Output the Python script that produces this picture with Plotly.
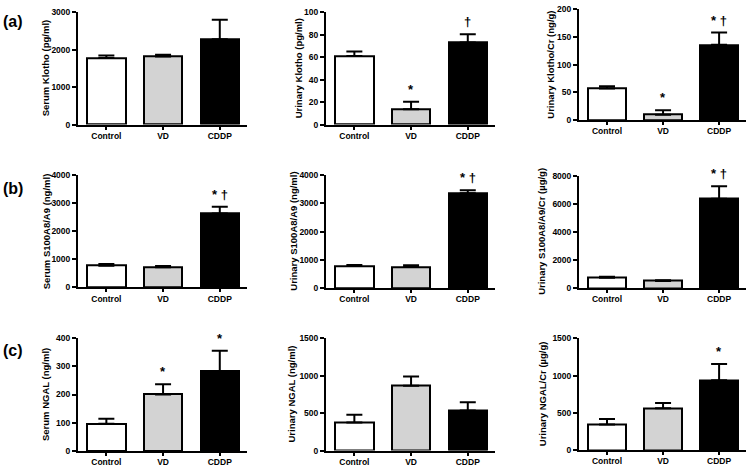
import plotly.graph_objects as go

# ---------------- data ----------------
groups = ["Control", "VD", "CDDP"]
bar_colors = ["#ffffff", "#d3d3d3", "#000000"]

serum_klotho = [1775, 1815, 2275]
serum_klotho_err = [68, 45, 525]
urinary_klotho = [61, 13.6, 73]
urinary_klotho_err = [4, 6.7, 7.3]
urinary_klotho_cr = [57, 10, 136]
urinary_klotho_cr_err = [4, 8, 22]

serum_s100 = [770, 713, 2640]
serum_s100_err = [60, 47, 237]
urinary_s100 = [786, 751, 3364]
urinary_s100_err = [34, 58, 104]
urinary_s100_cr = [744, 512, 6349]
urinary_s100_cr_err = [70, 46, 884]

serum_ngal = [96, 200, 282]
serum_ngal_err = [18.5, 36, 73]
urinary_ngal = [375, 868, 536]
urinary_ngal_err = [105, 122, 109]
urinary_ngal_cr = [342, 561, 939]
urinary_ngal_cr_err = [75, 71, 219]

panel_labels = ["(a)", "(b)", "(c)"]

panels = [
    # (values, errors, y title, y max, dtick, significance marks)
    (serum_klotho, serum_klotho_err, "Serum Klotho (pg/ml)", 3000, 1000, ["", "", ""]),
    (urinary_klotho, urinary_klotho_err, "Urinary Klotho (pg/ml)", 100, 20, ["", "*", "†"]),
    (urinary_klotho_cr, urinary_klotho_cr_err, "Urinary Klotho/Cr (ng/g)", 200, 50, ["", "*", "* †"]),
    (serum_s100, serum_s100_err, "Serum S100A8/A9 (ng/ml)", 4000, 1000, ["", "", "* †"]),
    (urinary_s100, urinary_s100_err, "Urinary S100A8/A9 (ng/ml)", 4000, 1000, ["", "", "* †"]),
    (urinary_s100_cr, urinary_s100_cr_err, "Urinary S100A8/A9/Cr (µg/g)", 8000, 2000, ["", "", "* †"]),
    (serum_ngal, serum_ngal_err, "Serum NGAL (ng/ml)", 400, 100, ["", "*", "*"]),
    (urinary_ngal, urinary_ngal_err, "Urinary NGAL (ng/ml)", 1500, 500, ["", "", ""]),
    (urinary_ngal_cr, urinary_ngal_cr_err, "Urinary NGAL/Cr (µg/g)", 1500, 500, ["", "", "*"]),
]

# ---------------- layout geometry (pixels) ----------------
W, H = 750, 469
col_px = [(78, 247), (326, 495), (579, 746)]
row_px = [
    [(7.3, 122.2), (7.3, 122.2), (4.3, 117.7)],
    [(174, 288.5), (174, 289.3), (174.3, 289.3)],
    [(340.3, 455.7), (340.7, 455.3), (340.7, 454.7)],
]
title_x_px = [[45, 298, 551], [46, 294, 542], [45.5, 292, 542]]
label_y_px = [17, 188, 353]

FONT = "Liberation Sans, Arial, sans-serif"

def px_x(p):
    return p / W

def px_y(p):
    return 1 - p / H

fig = go.Figure()
annotations = []
x_pos = list(range(len(groups)))

for i, (vals, errs, ytitle, ymax, dtick, marks) in enumerate(panels):
    r, c = divmod(i, 3)
    n = i + 1
    xa = "x" if n == 1 else f"x{n}"
    ya = "y" if n == 1 else f"y{n}"
    fig.add_trace(go.Bar(
        x=x_pos, y=vals, xaxis=xa, yaxis=ya,
        width=0.68,
        marker=dict(color=bar_colors, line=dict(color="black", width=2)),
        error_y=dict(type="data", array=errs, arrayminus=[0] * len(errs),
                     symmetric=False, color="black", thickness=2, width=8),
        showlegend=False, hoverinfo="skip",
    ))
    x0, x1 = col_px[c]
    yt, yb = row_px[r][c]
    axis_common = dict(showline=True, linecolor="black", linewidth=2,
                       ticks="outside", tickcolor="black", tickwidth=1.5,
                       showgrid=False, zeroline=False,
                       tickfont=dict(family=FONT, size=8.5, color="black", weight="bold"))
    fig.layout[f"xaxis{n if n > 1 else ''}"] = dict(
        domain=[px_x(x0), px_x(x1)], anchor=ya, range=[-0.5, 2.48],
        tickvals=x_pos, ticktext=groups, ticklen=3, ticklabelstandoff=-1,
        fixedrange=True, **axis_common)
    fig.layout[f"yaxis{n if n > 1 else ''}"] = dict(
        domain=[px_y(yb), px_y(yt)], anchor=xa, range=[0, ymax], dtick=dtick,
        ticklen=4, fixedrange=True, **axis_common)
    annotations.append(dict(
        x=px_x(title_x_px[r][c]), y=px_y((yt + yb) / 2), xref="paper", yref="paper",
        text=f"<b>{ytitle}</b>", textangle=-90, showarrow=False,
        font=dict(family=FONT, size=9.5, color="black"),
        xanchor="center", yanchor="middle"))
    for k, m in enumerate(marks):
        if m:
            annotations.append(dict(
                x=x_pos[k], y=vals[k] + errs[k], xref=xa, yref=ya,
                text=f"<b>{m}</b>", showarrow=False, yanchor="bottom",
                yshift=3, font=dict(family=FONT, size=13, color="black")))

for r, lab in enumerate(panel_labels):
    annotations.append(dict(
        x=px_x(1), y=px_y(label_y_px[r]), xref="paper", yref="paper",
        text=f"<b>{lab}</b>", showarrow=False, xanchor="left", yanchor="middle",
        font=dict(family=FONT, size=16, color="black")))

fig.update_layout(
    width=W, height=H, margin=dict(l=0, r=0, t=0, b=0),
    paper_bgcolor="white", plot_bgcolor="white",
    annotations=annotations, bargap=0,
)

fig.write_html("out.html", config={"displayModeBar": False},
               post_script="document.body.style.margin='0';document.body.style.padding='0';")
